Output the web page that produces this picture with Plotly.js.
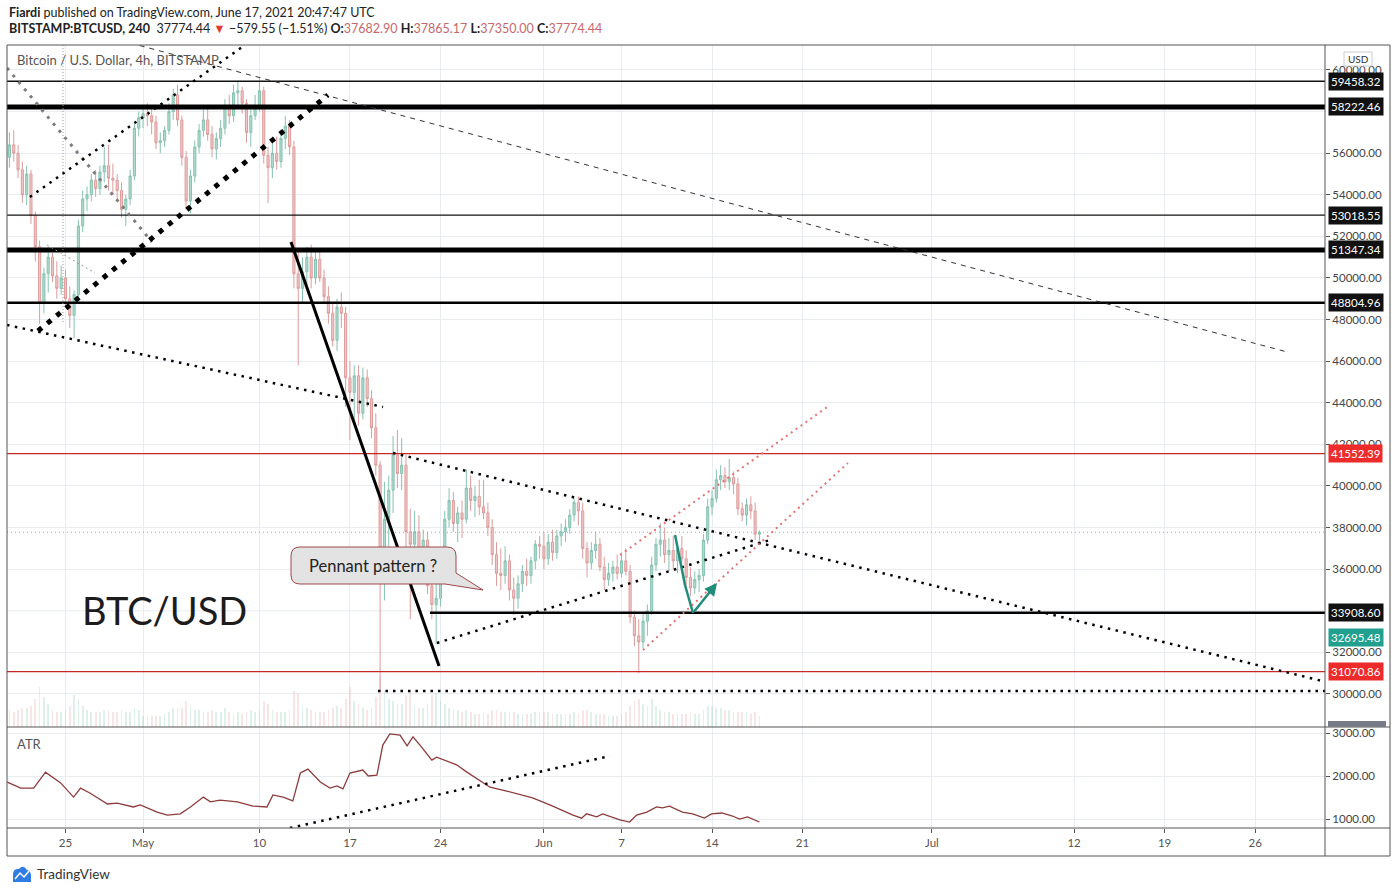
<!DOCTYPE html>
<html><head><meta charset="utf-8">
<script src="https://cdn.plot.ly/plotly-3.0.1.min.js"></script>
<style>html,body{margin:0;padding:0;background:#fff}#chart{width:1396px;height:893px}</style>
</head><body><div id="chart"></div>
<script>
// 8-hour candles, first candle 2021-04-20 16:00 UTC
const openPrices = [
 55800,
 56400,56000,55200, 54000,55000,53000, 51500,48800,50200, 51000,50100,49500, 50000,49000,48200,
 49200,52500,53800, 54000,54700,54300, 55100,55400,54800, 54700,54200,53300, 53800,54900,57200,
 57700,57900,57800, 57500,56500,56600, 57100,58000,58800, 57600,55800,53700, 54900,56300,57100,
 57600,56900,56200, 56700,57200,58200, 57800,58900,59000, 58400,57000,57800, 58300,59000,55900,
 55300,56000,55600, 56700,57300,56300, 50200,49500,50300, 51000,50000,50900, 50000,49100,48300,
 47000,48600,48300, 45200,44500,45300, 43500,45200,44200, 42800,41000,36000, 38400,39800,41500,
 40600,41000,37800, 37200,37800,36300, 37400,35200,34300, 34600,36600,38400, 39300,38200,38700,
 38400,39900,39300, 39500,39000,38700, 38000,36700,35800, 35700,36400,35000, 34600,35300,35900,
 35700,36400,37200,
 37100,36500,37300, 36800,37600,37800, 38000,38600,39200, 38800,37000,36300, 36900,37200,36100,
 35500,35800,36100, 35800,36400,35900, 33700,32800,32500, 33500,34000,36200, 37200,37400,36700,
 36900,36400,37000, 36500,35600,35100, 35500,35700,37400, 39000,39400,40300, 40500,40200,40400,
 40100,38900,38600, 39100,38800,37682.90
];
const highPrices = [
 57000,
 57100,56400,55600, 55400,55200,53200, 51800,50500,51500, 51200,50800,50600, 50400,49600,49400,
 52800,54200,54400, 55000,55200,55400, 56300,56400,55500, 55000,54600,54000, 55200,57500,58000,
 58300,58400,58200, 57800,57000,57300, 58400,59100,59300, 57800,56100,55200, 56600,57400,58100,
 58200,57300,57000, 57600,58600,58800, 59300,59500,59200, 58600,58200,58800, 59600,59200,56300,
 56500,56800,57000, 57800,57600,56600, 51400,51000,51500, 51600,51300,51400, 50400,49600,48800,
 49000,49300,48600, 46000,45800,45800, 45700,45600,44600, 43500,41200,40200, 40500,42400,42700,
 42300,41500,38900, 38800,38600,37900, 37800,35800,35300, 37000,38800,39900, 39700,39000,39300,
 40800,40500,40000, 40300,40300,39200, 38400,37300,37000, 37100,36700,35600, 35700,36200,36500,
 36600,37400,37600,
 37800,37700,37900, 37900,38200,38400, 38900,39400,39500, 39200,37300,37300, 37800,37500,36600,
 36300,36400,36700, 36800,37000,36200, 34000,33600,33900, 34300,36600,37500, 38200,38000,37500,
 37600,37200,37600, 36900,36100,35900, 36000,37700,39400, 39800,40800,41000, 40900,41300,40700,
 40400,39200,39400, 39500,39200,37865.17
];
const lowPrices = [
 55300,
 55600,54800,53600, 53500,52600,50800, 47800,48300,49300, 49800,49000,49200, 48600,47600,47100,
 49000,52200,53200, 53700,53900,54000, 54600,54200,54000, 53800,52900,52500, 53500,54700,56800,
 57200,57300,56900, 56200,56000,56300, 56900,57600,57300, 55400,53300,53100, 54600,56000,56800,
 56600,55800,55700, 56300,56900,57400, 57500,58300,57900, 56500,56300,57600, 58000,55500,53600,
 54800,55200,55300, 56200,55900,49500, 45800,48800,49600, 49500,49700,49800, 48800,47800,46700,
 46500,47600,43800, 42200,43200,42900, 43200,43800,42300, 40500,30100,34500, 36500,38700,39900,
 39800,37000,33600, 36200,35700,35500, 34800,33600,32400, 34200,36200,38000, 37800,37300,37500,
 38200,38800,38500, 38600,38400,37600, 36200,35200,35000, 35300,34500,33800, 34100,34900,35200,
 35300,36000,36500,
 36000,36200,36400, 36500,37100,37300, 37700,38300,38100, 36500,35600,36000, 36500,35900,35000,
 35200,35400,35500, 35600,35700,33400, 32300,31000,32200, 32800,33800,35900, 36600,36300,35900,
 36000,35800,36300, 35200,34700,34800, 34900,35400,37200, 38600,39200,39800, 39900,39800,39600,
 38600,38300,38100, 38400,37400,37350.00
];
const closePrices = [
 56400,
 56000,55200,54000, 55000,53000,51500, 48800,50200,51000, 50100,49500,50000, 49000,48200,49200,
 52500,53800,54000, 54700,54300,55100, 55400,54800,54700, 54200,53300,53800, 54900,57200,57700,
 57900,57800,57500, 56500,56600,57100, 58000,58800,57600, 55800,53700,54900, 56300,57100,57600,
 56900,56200,56700, 57200,58200,57800, 58900,59000,58400, 57000,57800,58300, 59000,55900,55300,
 56000,55600,56700, 57300,56300,50200, 49500,50300,51000, 50000,50900,50000, 49100,48300,47000,
 48600,48300,45200, 44500,45300,43500, 45200,44200,42800, 41000,36000,38400, 39800,41500,40600,
 41000,37800,37200, 37800,36300,37400, 35200,34300,34600, 36600,38400,39300, 38200,38700,38400,
 39900,39300,39500, 39000,38700,38000, 36700,35800,35700, 36400,35000,34600, 35300,35900,35700,
 36400,37200,37100,
 36500,37300,36800, 37600,37800,38000, 38600,39200,38800, 37000,36300,36900, 37200,36100,35500,
 35800,36100,35800, 36400,35900,33700, 32800,32500,33500, 34000,36200,37200, 37400,36700,36900,
 36400,37000,36500, 35600,35100,35500, 35700,37400,39000, 39400,40300,40500, 40200,40400,40100,
 38900,38600,39100, 38800,37683,37774.44
];
const volumes = [
 4000,
 3500,4000,4500, 4500,5000,6500, 9500,7000,5500, 4000,3500,3500, 4000,5000,7500,
 6500,5000,4000, 3500,3500,3500, 4000,4000,3500, 3500,4000,3500, 3500,4500,4000,
 2500,2500,2500, 2500,2500,3000, 3500,4500,4500, 4500,6000,5000, 4000,4000,3500,
 3500,4000,3500, 3500,4500,3500, 3000,3500,3000, 3500,4000,3500, 4000,6000,5500,
 4000,3500,3500, 3500,4000,8500, 8000,5000,4500, 4000,3500,3500, 3500,4000,4500,
 5000,4500,6500, 9500,6000,5500, 4500,4000,4500, 7000,12000,8500, 6500,6000,5500,
 5500,7500,8500, 5000,4500,4500, 5500,7500,8000, 6000,5500,4500, 4000,4000,3500,
 4000,3500,3000, 3000,3500,3000, 4000,4000,3500, 3500,3500,3500, 3000,3000,3000,
 3000,3500,3500,
 3500,3500,3000, 3000,3000,3000, 3000,3500,3000, 4000,4000,3500, 3000,3000,3000,
 2500,2500,2500, 3000,3500,5000, 6000,6500,5500, 5000,6500,5000, 4000,3500,3500,
 3000,3000,3000, 3000,3500,3000, 3000,4000,5000, 5000,4500,4500, 4000,4000,3500,
 3500,3500,3500, 3000,3500,2500
];
const atrTime = ["2021-04-20 12:00","2021-04-21 13:00","2021-04-22 13:00","2021-04-23 11:00","2021-04-24 15:00","2021-04-25 15:00","2021-04-26 04:00","2021-04-26 22:00","2021-04-28 06:00","2021-04-29 00:00","2021-04-30 06:00","2021-04-30 19:00","2021-05-02 02:00","2021-05-02 21:00","2021-05-03 21:00","2021-05-04 16:00","2021-05-05 16:00","2021-05-06 05:00","2021-05-06 23:00","2021-05-08 07:00","2021-05-09 12:00","2021-05-10 14:00","2021-05-11 01:00","2021-05-11 20:00","2021-05-12 14:00","2021-05-13 04:00","2021-05-13 18:00","2021-05-14 17:00","2021-05-15 11:00","2021-05-16 00:00","2021-05-16 11:00","2021-05-17 00:00","2021-05-18 00:00","2021-05-18 10:00","2021-05-19 02:00","2021-05-19 13:00","2021-05-20 02:00","2021-05-20 21:00","2021-05-21 10:00","2021-05-21 21:00","2021-05-22 10:00","2021-05-23 08:00","2021-05-23 17:00","2021-05-25 06:00","2021-05-26 01:00","2021-05-27 20:00","2021-05-29 03:00","2021-05-31 03:00","2021-06-01 11:00","2021-06-03 06:00","2021-06-03 22:00","2021-06-04 07:00","2021-06-05 02:00","2021-06-05 13:00","2021-06-06 21:00","2021-06-07 15:00","2021-06-08 04:00","2021-06-08 23:00","2021-06-09 17:00","2021-06-10 04:00","2021-06-10 17:00","2021-06-11 17:00","2021-06-12 12:00","2021-06-13 10:00","2021-06-13 23:00","2021-06-14 18:00","2021-06-15 14:00","2021-06-16 03:00","2021-06-16 18:00","2021-06-17 16:00"];
const atrValue = [1860,1720,1720,2090,1840,1510,1720,1600,1350,1370,1280,1330,1160,1090,1120,1280,1510,1400,1440,1400,1300,1280,1560,1510,1420,2070,2160,1860,1720,1770,1700,2070,2140,2000,2020,2720,2980,2950,2700,2910,2720,2370,2440,2260,2090,1740,1650,1490,1330,1090,1020,1120,1050,1120,980,930,1090,1160,1280,1260,1300,1160,1120,1020,1120,1140,1070,1000,1050,930];
const tickDates = ["2021-04-25","2021-05-01","2021-05-10","2021-05-17","2021-05-24","2021-06-01","2021-06-07","2021-06-14","2021-06-21","2021-07-01","2021-07-12","2021-07-19","2021-07-26"];
const tickLabels = ["25","May","10","17","24","Jun","7","14","21","Jul","12","19","26"];
const blackLevels = [59458.32, 58222.46, 53018.55, 51347.34, 48804.96, 33908.60];
const redLevels = [41552.39, 31070.86];
const tealLevel = 32695.48;
const lastPrice = 37774.44;
const priceTicks = [30000,32000,36000,38000,40000,42000,44000,46000,48000,50000,52000,54000,56000,60000];
const gridPrices = [30000,32000,34000,36000,38000,40000,42000,44000,46000,48000,50000,52000,54000,56000,58000,60000];
const atrTicks = [1000,2000,3000];

const startMs = Date.UTC(2021,3,20,16,0);
const times = openPrices.map((_, i) => new Date(startMs + i*8*3600e3).toISOString().slice(0,16).replace('T',' '));
const volColors = closePrices.map((c,i) => c >= openPrices[i] ? 'rgba(110,185,165,0.22)' : 'rgba(225,140,140,0.22)');

const FONT = 'Lato, "Open Sans", sans-serif';
const X0 = "2021-04-20 11:30", X1 = "2021-07-31 09:40";
const GRID = '#e9edf2';

const traces = [
 {type:'bar', x:times, y:volumes, yaxis:'y3', xaxis:'x', marker:{color:volColors, line:{width:0}}, width:8*3600e3*0.4, hoverinfo:'skip'},
 {type:'candlestick', x:times, open:openPrices, high:highPrices, low:lowPrices, close:closePrices, xaxis:'x', yaxis:'y',
  increasing:{line:{color:'#86c2b1', width:1}, fillcolor:'rgba(150,205,190,0.75)'},
  decreasing:{line:{color:'#dd9c9c', width:1}, fillcolor:'rgba(235,180,180,0.75)'}, whiskerwidth:0, hoverinfo:'skip'},
 {type:'scatter', mode:'lines', x:atrTime, y:atrValue, xaxis:'x', yaxis:'y2', line:{color:'#8e3b3b', width:1.3}, hoverinfo:'skip'}
];

function hl(y, color, width, dash, x0) {
  if (x0) return {type:'line', xref:'x', yref:'y', x0:x0, x1:X1, y0:y, y1:y, line:{color:color, width:width, dash:dash||'solid'}};
  return {type:'line', xref:'paper', yref:'y', x0:0, x1:1, y0:y, y1:y, line:{color:color, width:width, dash:dash||'solid'}};
}
function seg(x0,y0,x1,y1,color,width,dash,yref) {
  return {type:'line', xref:'x', yref:yref||'y', x0:x0, y0:y0, x1:x1, y1:y1, line:{color:color, width:width, dash:dash||'solid'}};
}
const P = (X)=> (X-7)/1318, Q = (Y)=> (828-Y)/783;

const shapes = [
 ...gridPrices.filter(v=>priceTicks.indexOf(v)<0).map(v=>({type:'line', layer:'below', xref:'paper', yref:'y', x0:0, x1:1, y0:v, y1:v, line:{color:GRID, width:1}})),
 hl(lastPrice, '#a0a6ad', 1, '1px,3px'),
 hl(blackLevels[0], '#111', 1.3),
 hl(blackLevels[1], '#000', 5),
 hl(blackLevels[2], '#111', 1.3),
 hl(blackLevels[3], '#000', 5),
 hl(blackLevels[4], '#000', 2.5),
 hl(blackLevels[5], '#000', 2.5, 'solid', "2021-05-23 04:30"),
 hl(redLevels[0], '#c62828', 1.2),
 hl(redLevels[1], '#c62828', 1.2),
 hl(30140, '#000', 2.5, '2.5px,5px', "2021-05-19 04:00"),
 // drawings
 seg("2021-04-29 23:45",61300,"2021-07-28 11:20",46443,'#333',1,'5px,5px'),
 seg("2021-04-20 11:30",60098,"2021-05-01 16:35",51732,'#7d7d7d',3,'3px,6px'),
 seg("2021-04-22 06:00",53896,"2021-05-08 21:10",61200,'#000',2.5,'2.5px,5.5px'),
 seg("2021-04-22 20:55",47453,"2021-05-15 07:10",58800,'#000',5,'5px,7px'),
 seg("2021-04-20 11:30",47742,"2021-05-19 13:25",43799,'#000',2.5,'2.5px,5.5px'),
 seg("2021-04-23 13:40",51588,"2021-04-27 06:45",50242,'#999',1,'2px,3px'),
 seg("2021-04-24 19:25",61200,"2021-04-24 19:25",47838,'#999',1,'1px,2px'),
 seg("2021-05-12 10:35",51732,"2021-05-23 21:20",31346,'#000',3),
 seg("2021-05-20 07:55",41587,"2021-07-31 04:20",30625,'#000',2.5,'2.5px,5.5px'),
 seg("2021-05-23 17:30",32452,"2021-06-18 11:45",37404,'#000',2.5,'2.5px,5.5px'),
 seg("2021-06-06 21:10",36683,"2021-06-23 02:55",43895,'#e57373',2,'2px,4px'),
 seg("2021-06-08 15:50",32115,"2021-06-24 12:15",41107,'#e57373',2,'2px,4px'),
 seg("2021-06-11 03:25",37645,"2021-06-11 21:50",35241,'#1f8c7c',2.5),
 seg("2021-06-11 21:50",35241,"2021-06-12 12:40",33895,'#1f8c7c',2.5),
 seg("2021-05-12 08:40",791,"2021-06-06 02:40",2465,'#000',2.5,'2.5px,5.5px','y2'),
 // callout
 {type:'path', xref:'paper', yref:'paper', fillcolor:'#e3e3e3', line:{color:'#a04848', width:1},
  path:`M${P(300)},${Q(547)} L${P(447)},${Q(547)} Q${P(456)},${Q(547)} ${P(456)},${Q(556)} L${P(456)},${Q(573)} L${P(483)},${Q(590)} L${P(445)},${Q(584)} L${P(300)},${Q(584)} Q${P(291)},${Q(584)} ${P(291)},${Q(575)} L${P(291)},${Q(556)} Q${P(291)},${Q(547)} ${P(300)},${Q(547)} Z`},
 // frame
 {type:'rect', xref:'paper', yref:'paper', x0:0, x1:P(1390), y0:Q(856), y1:1, line:{color:'#555', width:1}},
 {type:'line', xref:'paper', yref:'paper', x0:0, x1:P(1390), y0:Q(727), y1:Q(727), line:{color:'#555', width:1}},
 {type:'line', xref:'paper', yref:'paper', x0:0, x1:P(1390), y0:0, y1:0, line:{color:'#555', width:1}},
 {type:'line', xref:'paper', yref:'paper', x0:1, x1:1, y0:Q(856), y1:1, line:{color:'#555', width:1}},
 // USD box & grey clipped label
 {type:'rect', xref:'paper', yref:'paper', x0:P(1344), x1:P(1372), y0:Q(66), y1:Q(52), fillcolor:'#fff', line:{color:'#ccc', width:1}},
 {type:'rect', xref:'paper', yref:'paper', x0:P(1328), x1:P(1386), y0:Q(727), y1:Q(721), fillcolor:'#787b86', line:{width:0}},
 // TradingView logo
 {type:'path', xref:'paper', yref:'paper', fillcolor:'#2e7ce4', line:{width:0},
  path:`M${P(13)},${Q(882)} L${P(13)},${Q(875)} Q${P(13)},${Q(868)} ${P(19)},${Q(869)} Q${P(23)},${Q(864)} ${P(27)},${Q(870)} Q${P(31)},${Q(871)} ${P(31)},${Q(876)} L${P(31)},${Q(882)} Z`},
 {type:'path', xref:'paper', yref:'paper', line:{color:'#fff', width:1.5},
  path:`M${P(15)},${Q(879)} L${P(20)},${Q(873)} L${P(24)},${Q(877)} L${P(29)},${Q(871)}`}
];

function lbl(v, bg) {
  return {xref:'paper', x:P(1328), xanchor:'left', yref:'y', y:v, yanchor:'middle', text:v.toFixed(2), showarrow:false,
    bgcolor:bg, font:{color:'#fff', size:11.5, family:FONT}, borderpad:2};
}
const annotations = [
 ...blackLevels.map(v=>lbl(v,'#111')),
 ...redLevels.map(v=>lbl(v,'#ee2b2b')),
 lbl(tealLevel,'#22a08f'),
 {xref:'paper', yref:'paper', x:0, y:Q(12), xanchor:'left', yanchor:'middle', showarrow:false, font:{size:12.5, color:'#222', family:FONT},
  text:'<b>Fiardi</b> published on TradingView.com, June 17, 2021 20:47:47 UTC'},
 {xref:'paper', yref:'paper', x:0, y:Q(29), xanchor:'left', yanchor:'middle', showarrow:false, font:{size:12.5, color:'#222', family:FONT},
  text:"<b>BITSTAMP:BTCUSD, 240</b>  37774.44 <span style='color:#e53935'>▼</span> −579.55 (−1.51%) <b>O:</b><span style='color:#c9676b'>37682.90</span> <b>H:</b><span style='color:#c9676b'>37865.17</span> <b>L:</b><span style='color:#c9676b'>37350.00</span> <b>C:</b><span style='color:#c9676b'>37774.44</span>"},
 {xref:'paper', yref:'paper', x:P(15), y:Q(60), xanchor:'left', yanchor:'middle', showarrow:false, font:{size:13, color:'#555', family:FONT},
  text:'Bitcoin / U.S. Dollar, 4h, BITSTAMP'},
 {xref:'paper', yref:'paper', x:P(15), y:Q(744), xanchor:'left', yanchor:'middle', showarrow:false, font:{size:13, color:'#555', family:FONT}, text:'ATR'},
 {xref:'paper', yref:'paper', x:P(164), y:Q(610), xanchor:'center', yanchor:'middle', showarrow:false, font:{size:38, color:'#1c1c1c', family:FONT}, text:'BTC/USD'},
 {xref:'paper', yref:'paper', x:P(373), y:Q(566), xanchor:'center', yanchor:'middle', showarrow:false, font:{size:16.5, color:'#222', family:FONT}, text:'Pennant pattern ?'},
 {xref:'paper', yref:'paper', x:P(1358), y:Q(59), xanchor:'center', yanchor:'middle', showarrow:false, font:{size:10, color:'#333', family:FONT}, text:'USD'},
 {xref:'paper', yref:'paper', x:P(35), y:Q(874), xanchor:'left', yanchor:'middle', showarrow:false, font:{size:13.5, color:'#333', family:FONT}, text:'TradingView'},
 {xref:'x', yref:'y', x:"2021-06-14 09:20", y:35337, axref:'x', ayref:'y', ax:"2021-06-12 12:40", ay:33895, showarrow:true,
  arrowhead:2, arrowsize:1, arrowwidth:2.5, arrowcolor:'#1f8c7c', text:''}
];

const layout = {
  width:1396, height:893, margin:{l:7, r:71, t:45, b:65}, paper_bgcolor:'#fff', plot_bgcolor:'#fff', showlegend:false,
  font:{family:FONT, color:'#444'},
  xaxis:{type:'date', range:[X0,X1], domain:[0,1], anchor:'y2', tickvals:tickDates, ticktext:tickLabels, showgrid:true, gridcolor:GRID,
    ticks:'outside', ticklen:4, tickcolor:'#555', tickfont:{size:11.5, color:'#555', family:FONT}, rangeslider:{visible:false}, showline:false, zeroline:false},
  yaxis:{domain:[Q(727),1], side:'right', anchor:'x', range:[28413,61201], tickvals:priceTicks, tickformat:'.2f', showgrid:true, gridcolor:GRID,
    ticks:'outside', ticklen:4, tickcolor:'#555', tickfont:{size:11.5, color:'#444', family:FONT}, zeroline:false, showline:false},
  yaxis2:{domain:[0,Q(727)], side:'right', anchor:'x', range:[791,3140], tickvals:atrTicks, tickformat:'.2f', showgrid:true, gridcolor:GRID,
    ticks:'outside', ticklen:4, tickcolor:'#555', tickfont:{size:11.5, color:'#444', family:FONT}, zeroline:false, showline:false},
  yaxis3:{overlaying:'y', range:[0,160000], visible:false, showgrid:false},
  shapes:shapes, annotations:annotations, bargap:0
};
Plotly.newPlot('chart', traces, layout, {displayModeBar:false, staticPlot:true});
</script>
</body></html>
